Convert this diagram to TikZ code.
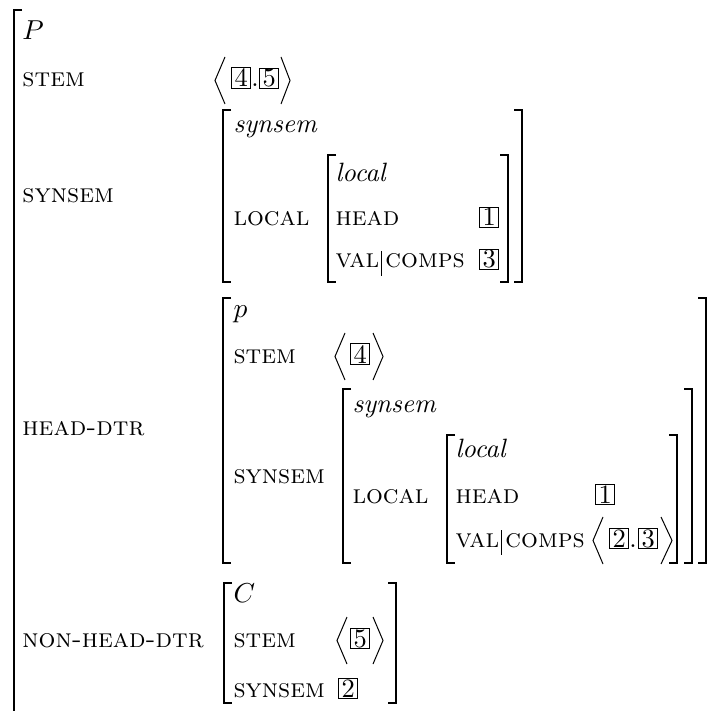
\documentclass[tikz,border=0pt]{standalone}
\begin{document}
\fontsize{10.6}{12.7}\selectfont
\begin{tikzpicture}[x=0.4pt,y=-0.4pt,
  att/.style={anchor=base west,inner sep=0pt,font=\scshape},
  typ/.style={anchor=base west,inner sep=0pt},
  tag/.style={draw,anchor=base west,inner xsep=1.2pt,inner ysep=0.45pt,line width=0.4pt},
  brk/.style={line width=0.6pt}]
\useasboundingbox (0,0) rectangle (710,711);
% brackets: x/top/bottom
\foreach \l/\t/\b in {14/10/716,223/110/282,328/155/282,223/298/563,343/389/563,447/435/563,224/583/703}
\draw[brk] ({\l+8},\t) -- (\l,\t) -- (\l,\b) -- ({\l+8},\b);
\foreach \r/\t/\b in {522/110/282,508/155/282,706/298/563,692/389/563,677/435/563,396/583/703}
\draw[brk] ({\r-8},\t) -- (\r,\t) -- (\r,\b) -- ({\r-8},\b);
% angle brackets: tip/arm/baseline
\foreach \p/\a/\y in {215/225/87,335/345/363,593/603/547,337/347/647}
\draw[line width=0.4pt] (\a,{\y-30}) -- (\p,{\y-6.5}) -- (\a,{\y+17});
\foreach \a/\p/\y in {281/290/87,373/383/363,661/672/547,373/383/647}
\draw[line width=0.4pt] (\a,{\y-30}) -- (\p,{\y-6.5}) -- (\a,{\y+17});
% top level
\node[typ] (tP) at (22,40) {$P$};
\node[att] (stem) at (22,87) {stem};
\node[att] (synsem) at (22,203) {synsem};
\node[att] (hdtr) at (22,435) {head-dtr};
\node[att] (nhdtr) at (22,647) {non-head-dtr};
% synsem value
\node[typ] (tS) at (233,133) {\textit{synsem}};
\node[att] (loc) at (233,226) {local};
\node[typ] (tL) at (335,182) {\textit{local}};
\node[att] (head) at (335,226) {head};
\node[att] (val) at (335,268) {val};
\draw[line width=0.4pt] ([xshift=0.9pt]val.base east) ++(0,-17) -- ++(0,25);
\node[att] (comps) at ([xshift=2.1pt]val.base east) {comps};
% head-dtr value
\node[typ] (tp) at (233,318) {$p$};
\node[att] (hstem) at (233,363) {stem};
\node[att] (hsyn) at (233,483) {synsem};
\node[typ] (htS) at (352,412) {\textit{synsem}};
\node[att] (hloc) at (352,503) {local};
\node[typ] (htL) at (455,457) {\textit{local}};
\node[att] (hhead) at (455,503) {head};
\node[att] (hval) at (455,547) {val};
\draw[line width=0.4pt] ([xshift=0.9pt]hval.base east) ++(0,-17) -- ++(0,25);
\node[att] (hcomps) at ([xshift=2.1pt]hval.base east) {comps};
% non-head-dtr value
\node[typ] (tC) at (233,602) {$C$};
\node[att] (nstem) at (233,647) {stem};
\node[att] (nsyn) at (233,697) {synsem};
% tags
\foreach \n/\x/\y/\d in {t4a/231/87/4,t5a/259/87/5,t1a/479/226/1,t3a/479/268/3,t4b/350/363/4,t1b/595/503/1,t2b/609/547/2,t3b/638/547/3,t5c/350/647/5,t2c/338/697/2}
\node[tag] (\n) at (\x,\y) {\d};
\node[typ,anchor=base] (dota) at (255,87) {.};
\node[typ,anchor=base] (dotb) at (633,547) {.};
\end{tikzpicture}
\end{document}
